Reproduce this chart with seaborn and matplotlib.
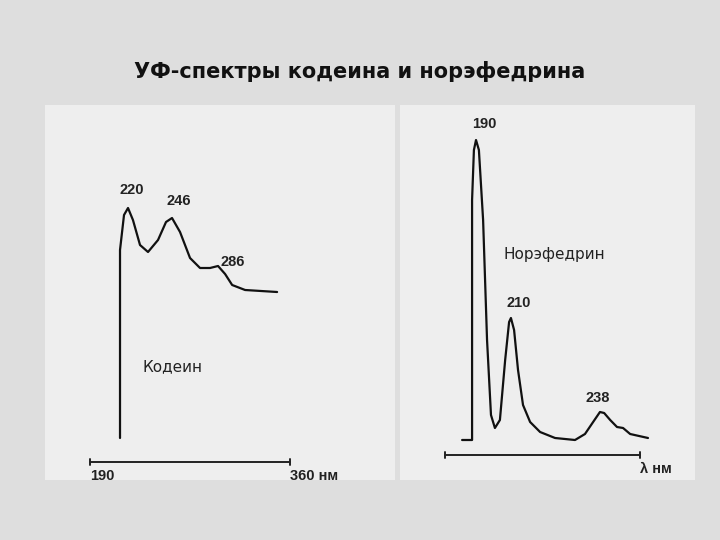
import matplotlib
matplotlib.use("Agg")
import matplotlib.pyplot as plt
import seaborn as sns

sns.set_style("white")
plt.rcParams["font.family"] = ["DejaVu Sans"]

# Codeine spectrum (wavelength nm, relative absorbance)
codeine_nm = [215.5, 215.5, 218.9, 222.3, 226.5, 232.5, 239.3, 247.8, 254.6, 259.7,
              266.5, 275.0, 283.5, 292.0, 298.8, 304.8, 310.8, 321.8, 349.0]
codeine_abs = [0.096, 0.848, 0.988, 1.016, 0.968, 0.868, 0.840, 0.888, 0.960, 0.976,
               0.920, 0.816, 0.776, 0.776, 0.784, 0.752, 0.708, 0.688, 0.680]

# Norephedrine spectrum
noreph_nm = [184.7, 188.5, 188.5, 189.2, 190.0, 191.1, 192.7, 194.2, 195.7, 197.2,
             199.1, 201.1, 202.6, 203.3, 204.5, 206.0, 207.9, 210.6, 214.4, 220.1,
             227.7, 231.5, 234.6, 237.2, 238.8, 241.1, 243.7, 246.0, 248.7, 255.5]
noreph_abs = [0.088, 0.088, 1.048, 1.248, 1.288, 1.248, 0.968, 0.488, 0.188, 0.136,
              0.168, 0.408, 0.560, 0.576, 0.528, 0.368, 0.228, 0.160, 0.120, 0.096,
              0.088, 0.112, 0.160, 0.200, 0.196, 0.168, 0.140, 0.136, 0.112, 0.096]

codeine_peaks = ["220", "246", "286"]
noreph_peaks = ["190", "210", "238"]

W, H = 720, 540
fig = plt.figure(figsize=(7.2, 5.4), dpi=100, facecolor="#dedede")


def px_axes(x0, y0, w, h):
    return fig.add_axes([x0 / W, 1 - (y0 + h) / H, w / W, h / H])


fig.text(0.5, 1 - 72 / H, "УФ-спектры кодеина и норэфедрина", ha="center", va="center",
         fontsize=15, fontweight="bold", color="#111111")

ylim = (-0.072, 1.428)
num_font = dict(family="Liberation Sans", fontweight="bold", fontsize=10.5, color="#222222")
line_kw = dict(sort=False, estimator=None, color="#111111", lw=1.6)

# left panel
ax1 = px_axes(45, 105, 350, 375)
ax1.set_facecolor("#eeeeee")
sns.lineplot(x=codeine_nm, y=codeine_abs, ax=ax1, **line_kw)
ax1.plot([190, 360], [0, 0], color="#222222", lw=1.4)
ax1.plot([190, 190], [-0.012, 0.012], color="#222222", lw=1.4)
ax1.plot([360, 360], [-0.012, 0.012], color="#222222", lw=1.4)
ax1.set_xlim(151.75, 449.2)
ax1.set_ylim(*ylim)
ax1.text(190, -0.03, "190", ha="left", va="top", **num_font)
ax1.text(360, -0.03, "360 нм", ha="left", va="top", **num_font)
ax1.text(215.0, 1.06, codeine_peaks[0], ha="left", va="bottom", **num_font)
ax1.text(265.0, 1.016, codeine_peaks[1], ha="center", va="bottom", **num_font)
ax1.text(311.0, 0.80, codeine_peaks[2], ha="center", va="center", **num_font)
ax1.text(259.7, 0.38, "Кодеин", ha="center", va="center", fontsize=11, color="#222222")

# right panel
ax2 = px_axes(400, 105, 295, 375)
ax2.set_facecolor("#eeeeee")
sns.lineplot(x=noreph_nm, y=noreph_abs, ax=ax2, **line_kw)
ax2.plot([178.2, 252.5], [0.028, 0.028], color="#222222", lw=1.4)
ax2.plot([178.2, 178.2], [0.016, 0.04], color="#222222", lw=1.4)
ax2.plot([252.5, 252.5], [0.016, 0.04], color="#222222", lw=1.4)
ax2.set_xlim(161.05, 273.4)
ax2.set_ylim(*ylim)
ax2.text(252.5, 0.0, "λ нм", ha="left", va="top", **num_font)
ax2.text(188.5, 1.35, noreph_peaks[0], ha="left", va="center", **num_font)
ax2.text(201.5, 0.636, noreph_peaks[1], ha="left", va="center", **num_font)
ax2.text(236.5, 0.256, noreph_peaks[2], ha="center", va="center", **num_font)
ax2.text(220, 0.828, "Норэфедрин", ha="center", va="center", fontsize=11, color="#222222")

for ax in (ax1, ax2):
    ax.set_xticks([])
    ax.set_yticks([])
    for s in ax.spines.values():
        s.set_visible(False)

fig.savefig("out.png", dpi=100, facecolor=fig.get_facecolor())
